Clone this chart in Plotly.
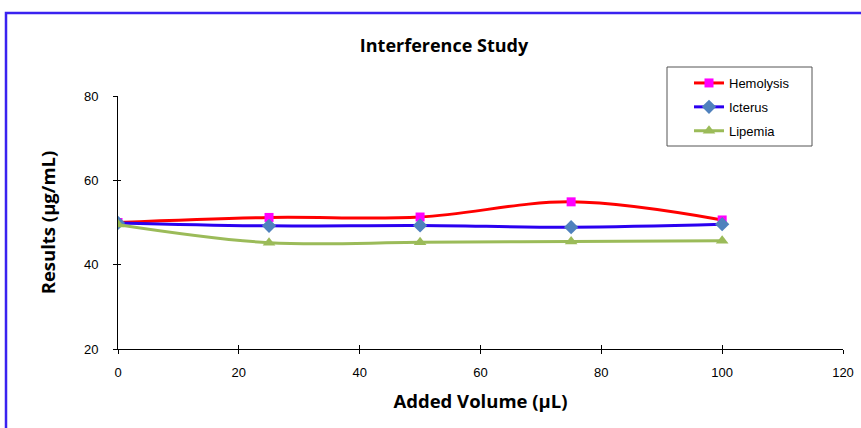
import plotly.graph_objects as go

x_vals = [0, 25, 50, 75, 100]
hemolysis = [50.0, 51.2, 51.3, 54.9, 50.6]
icterus = [49.9, 49.2, 49.3, 48.9, 49.6]
lipemia = [49.5, 45.2, 45.3, 45.5, 45.7]

x_ticks = [0, 20, 40, 60, 80, 100, 120]
y_ticks = [20, 40, 60, 80]

L, R, T, B = 118, 843, 96, 349
PW, PH = R - L, B - T


def px(xp):
    return (xp - L) / PW


def py(yp):
    return (B - yp) / PH


fig = go.Figure()
fig.add_trace(go.Scatter(x=x_vals, y=hemolysis, name="Hemolysis", mode="lines+markers",
                         line=dict(color="#FF0000", width=3, shape="spline"),
                         marker=dict(symbol="square", size=9, color="#FF00FF"),
                         legendgroup="a"))
fig.add_trace(go.Scatter(x=x_vals, y=icterus, name="Icterus", mode="lines+markers",
                         line=dict(color="#2A00F0", width=3, shape="spline"),
                         marker=dict(symbol="diamond", size=11, color="#4F81BD"),
                         legendgroup="b"))
fig.add_trace(go.Scatter(x=x_vals, y=lipemia, name="Lipemia", mode="lines+markers",
                         line=dict(color="#9BBB59", width=3, shape="spline"),
                         marker=dict(symbol="triangle-up", size=11, color="#9BBB59"),
                         legendgroup="c"))
fig.add_trace(go.Scatter(x=[None], y=[None], xaxis="x2", yaxis="y2", showlegend=False))

fig.update_layout(
    width=861, height=428,
    margin=dict(l=L, r=861 - R, t=T, b=428 - B, autoexpand=False),
    paper_bgcolor="white", plot_bgcolor="white",
    title=dict(text="<b>Interference Study</b>", x=444 / 861, xanchor="center",
               y=1 - 46 / 428, yanchor="middle",
               font=dict(family="Open Sans", size=18, color="black")),
    xaxis=dict(range=[0, 120], tickvals=x_ticks, ticks="outside", ticklen=4, tickcolor="black",
               showline=True, linecolor="black", linewidth=1, showgrid=False, zeroline=False,
               ticklabelstandoff=7, automargin=False,
               tickfont=dict(family="Liberation Sans", size=13, color="black"),
               title=dict(text="<b>Added Volume (µL)</b>", standoff=16,
                          font=dict(family="Open Sans", size=18.5, color="black"))),
    yaxis=dict(range=[20, 80], tickvals=y_ticks, ticks="outside", ticklen=4, tickcolor="black",
               showline=True, linecolor="black", linewidth=1, showgrid=False, zeroline=False,
               ticklabelstandoff=12, automargin=False,
               tickfont=dict(family="Liberation Sans", size=13, color="black"),
               title=dict(text="<b>Results (µg/mL)</b>", standoff=23,
                          font=dict(family="Open Sans", size=18.5, color="black"))),
    xaxis2=dict(range=[0, 120], tickvals=x_ticks, ticks="inside", ticklen=4, tickcolor="black",
                showticklabels=False, showgrid=False, zeroline=False, overlaying="x", side="bottom",
                showline=False),
    yaxis2=dict(range=[20, 80], tickvals=y_ticks, ticks="inside", ticklen=3, tickcolor="black",
                showticklabels=False, showgrid=False, zeroline=False, overlaying="y", side="left",
                showline=False),
    legend=dict(x=px(689), y=py(68), xanchor="left", yanchor="top",
                borderwidth=0, bgcolor="rgba(0,0,0,0)",
                font=dict(family="Liberation Sans", size=13, color="black"),
                traceorder="grouped", tracegroupgap=4),
    shapes=[
        dict(type="rect", xref="paper", yref="paper",
             x0=px(6), x1=1.2, y0=-0.5, y1=py(13),
             line=dict(color="#3A22F0", width=2.5)),
        dict(type="rect", xref="paper", yref="paper", layer="below",
             x0=px(667), x1=px(812), y0=py(146), y1=py(67),
             line=dict(color="#555555", width=1), fillcolor="white"),
    ],
)

fig.write_html("out.html")
